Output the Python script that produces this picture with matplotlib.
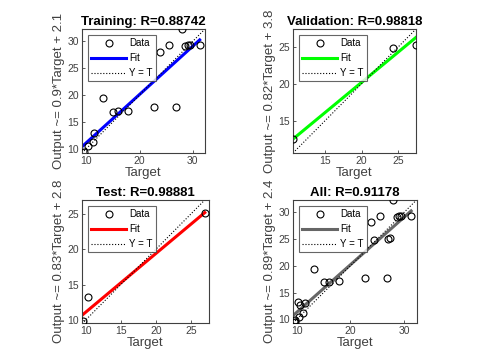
import matplotlib
matplotlib.use("Agg")
import matplotlib.pyplot as plt
import numpy as np

plt.rcParams['font.family'] = ['Liberation Sans', 'DejaVu Sans']

# values
t_train = [9.6, 10.4, 11.2, 11.5, 13.2, 15.1, 16.0, 17.9, 22.7, 23.8, 25.5, 26.8, 28.0, 28.6, 29.1, 29.5, 31.3]
y_train = [9.4, 10.5, 11.2, 13.0, 19.4, 16.9, 17.0, 17.1, 17.7, 28.1, 29.3, 17.8, 32.3, 29.2, 29.3, 29.3, 29.4]
t_val = [10.65, 24.3, 27.4]
y_val = [12.6, 24.9, 25.2]
t_test = [9.6, 10.3, 26.9]
y_test = [9.9, 13.2, 25.1]

titles = ['Training: R=0.88742', 'Validation: R=0.98818', 'Test: R=0.98881', 'All: R=0.91178']
slopes = [0.9, 0.82, 0.83, 0.89]
offsets = [2.1, 3.8, 2.8, 2.4]
ylabels = ['Output ~= 0.9*Target + 2.1', 'Output ~= 0.82*Target + 3.8',
           'Output ~= 0.83*Target + 2.8', 'Output ~= 0.89*Target + 2.4']
fit_colors = ['#0000ff', '#00ff00', '#ff0000', '#666666']
xlims = [(9.2, 32.3), (10.65, 27.4), (9.5, 27.5), (9.3, 32.3)]
ylims = [(9.2, 32.3), (10.65, 27.4), (9.6, 26.9), (9.3, 32.3)]

t_all = t_train + t_val + t_test
y_all = y_train + y_val + y_test
targets = [t_train, t_val, t_test, t_all]
outputs = [y_train, y_val, y_test, y_all]

W, H = 480, 360
# axes boxes in pixels: left, right, top, bottom
boxes = [(82, 205, 29, 153), (293, 416, 29, 153), (82, 209, 200, 323), (293, 416.5, 200, 323)]

fig = plt.figure(figsize=(4.8, 3.6), dpi=100)
for i in range(4):
    l, r, t, b = boxes[i]
    ax = fig.add_axes([l / W, (H - b) / H, (r - l) / W, (b - t) / H])
    tt = np.array(targets[i])
    yy = np.array(outputs[i])
    x0, x1 = xlims[i]
    ax.plot(tt, yy, 'o', mfc='none', mec='black', ms=5, mew=0.8, label='Data', zorder=3)
    xf = np.array([x0, tt.max()])
    ax.plot(xf, slopes[i] * xf + offsets[i], '-', color=fit_colors[i], lw=2.2, label='Fit')
    ax.plot([x0, x1], [x0, x1], ':', color='black', lw=0.8, label='Y = T')
    ax.set_xlim(xlims[i])
    ax.set_ylim(ylims[i])
    ax.set_title(titles[i], fontsize=9.5, fontweight='bold', pad=3)
    ax.set_xlabel('Target', fontsize=9.5, color='#404040', labelpad=1)
    ax.set_ylabel(ylabels[i], fontsize=9.5, color='#404040', labelpad=2)
    ax.tick_params(direction='in', length=2, width=0.6, labelsize=7.5, colors='#404040', pad=2)
    for s in ax.spines.values():
        s.set_color('#404040')
        s.set_linewidth(0.8)
    leg = ax.legend(loc='upper left', fontsize=7, frameon=True, fancybox=False,
                    handlelength=3.6, handletextpad=0.3, borderpad=0.35, labelspacing=0.5,
                    borderaxespad=0.6)
    leg.get_frame().set_edgecolor('#404040')
    leg.get_frame().set_linewidth(0.8)

fig.savefig('out.png', dpi=100)
